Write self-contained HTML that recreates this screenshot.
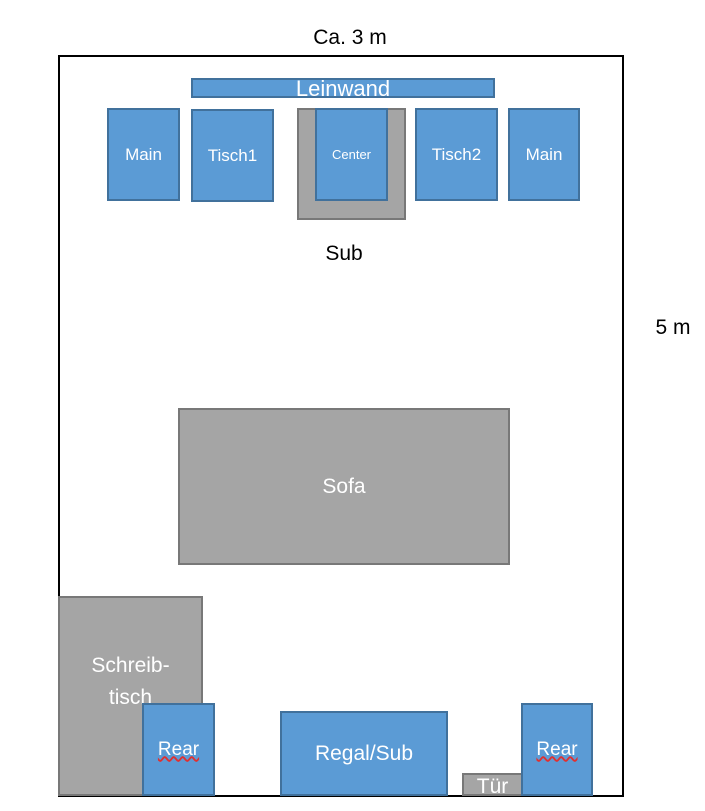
<!DOCTYPE html>
<html><head><meta charset="utf-8"><style>
body{margin:0;width:705px;height:811px;background:#fff;position:relative;overflow:hidden;font-family:"Liberation Sans",sans-serif}
div{position:absolute;box-sizing:border-box;display:flex;align-items:center;justify-content:center;color:#fff;text-align:center}
.b{background:#5b9bd5;border:2px solid #41719c}
.g{background:#a5a5a5;border:2px solid #787878}
.t{color:#000;font-size:21px}
</style></head><body>
<div class="t" style="left:290px;top:22px;width:120px;height:32px">Ca. 3 m</div>
<div class="t" style="left:643px;top:312px;width:60px;height:32px">5 m</div>
<div style="left:58px;top:55px;width:566px;height:742px;border:2px solid #000"></div>
<div class="t" style="left:314px;top:238px;width:60px;height:32px">Sub</div>
<div class="b" style="left:191px;top:78px;width:304px;height:20px;font-size:22px;overflow:visible;line-height:20px;padding-top:2px">Leinwand</div>
<div class="b" style="left:107px;top:108px;width:73px;height:93px;font-size:17px">Main</div>
<div class="b" style="left:191px;top:109px;width:83px;height:93px;font-size:17px">Tisch1</div>
<div class="g" style="left:297px;top:108px;width:109px;height:112px"></div>
<div class="b" style="left:315px;top:108px;width:73px;height:93px;font-size:13px">Center</div>
<div class="b" style="left:415px;top:108px;width:83px;height:93px;font-size:17px">Tisch2</div>
<div class="b" style="left:508px;top:108px;width:72px;height:93px;font-size:17px">Main</div>
<div class="g" style="left:178px;top:408px;width:332px;height:157px;font-size:21px">Sofa</div>
<div class="g" style="left:58px;top:596px;width:145px;height:200px;font-size:21px;align-items:flex-start;padding-top:52px;line-height:32px">Schreib-<br>tisch</div>
<div class="b" style="left:142px;top:703px;width:73px;height:93px;font-size:19px"><span style="text-decoration:underline wavy #e03030">Rear</span></div>
<div class="b" style="left:280px;top:711px;width:168px;height:85px;font-size:21px">Regal/Sub</div>
<div class="g" style="left:462px;top:773px;width:61px;height:23px;font-size:21px;overflow:hidden;line-height:23px;padding-top:4px">Tür</div>
<div class="b" style="left:521px;top:703px;width:72px;height:93px;font-size:19px"><span style="text-decoration:underline wavy #e03030">Rear</span></div>
</body></html>
